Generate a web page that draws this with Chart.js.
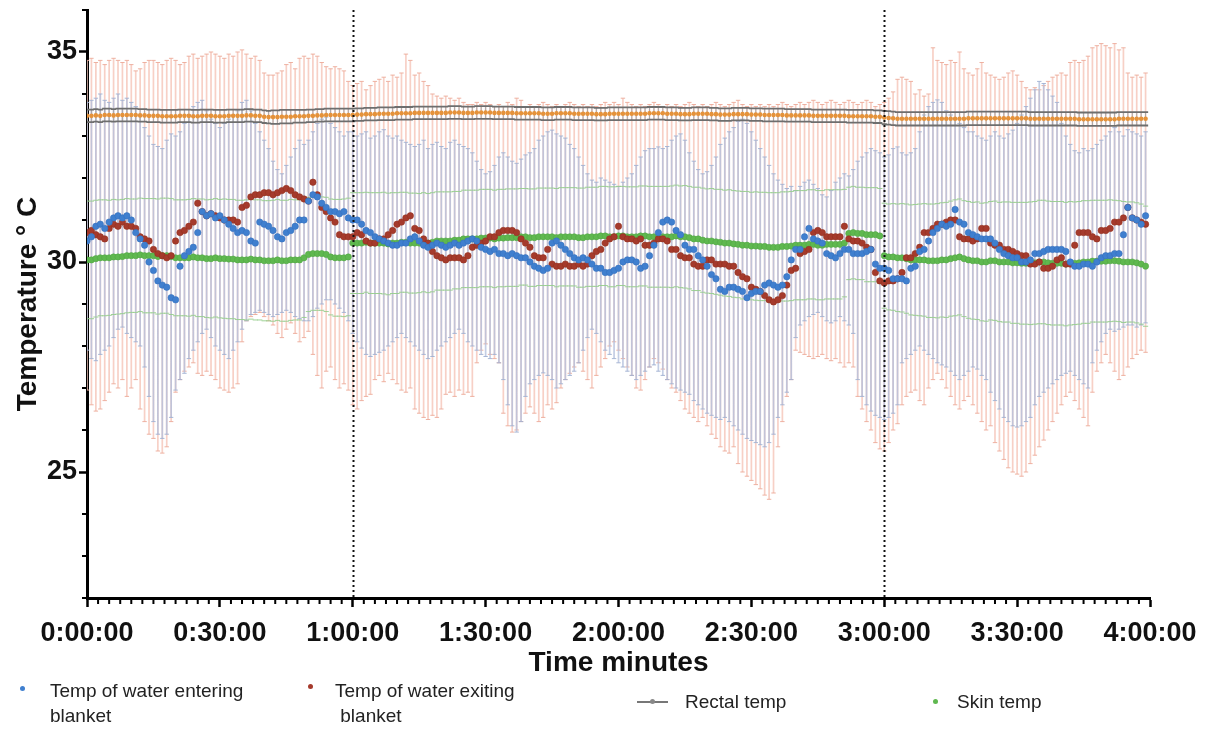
<!DOCTYPE html>
<html><head><meta charset="utf-8">
<script src="https://cdn.jsdelivr.net/npm/chart.js@4.4.0/dist/chart.umd.min.js"></script>
<style>
html,body{margin:0;padding:0;background:#fff;}
#wrap{position:relative;width:1205px;height:731px;overflow:hidden;}
canvas{position:absolute;left:0;top:0;}
.lg{position:absolute;font-family:"Liberation Sans",Arial,sans-serif;font-size:19px;color:#222;line-height:25px;white-space:nowrap;}
.dot{position:absolute;border-radius:50%;width:5px;height:5px;}
</style></head>
<body><div id="wrap"><canvas id="c" width="1205" height="731"></canvas>
<div class="dot" style="left:20px;top:686px;background:#3f7fcf"></div>
<div class="lg" style="left:50px;top:678px">Temp of water entering<br>blanket</div>
<div class="dot" style="left:308px;top:684px;background:#a53a2c"></div>
<div class="lg" style="left:335px;top:678px">Temp of water exiting<br>&nbsp;blanket</div>
<div style="position:absolute;left:637px;top:701px;width:31px;height:2px;background:#777"></div>
<div style="position:absolute;left:650px;top:699px;width:5px;height:5px;border-radius:50%;background:#888"></div>
<div class="lg" style="left:685px;top:689px">Rectal temp</div>
<div class="dot" style="left:933px;top:699px;background:#5fb84f"></div>
<div class="lg" style="left:957px;top:689px">Skin temp</div>
</div>
<script>
// ---- data (one sample per minute, t = 0..239 min) ----
const timeMinutes = Array.from({length:240},(_,i)=>i);
const xTickLabels = ['0:00:00','0:30:00','1:00:00','1:30:00','2:00:00','2:30:00','3:00:00','3:30:00','4:00:00'];
const yTickValues = [25,30,35];
const markerTimes = [60,180];

const waterIn = [
30.5,30.6,30.85,30.9,30.8,30.95,31.05,31.1,31.05,31.1,
31.0,30.7,30.55,30.4,30.0,29.8,29.55,29.45,29.4,29.15,
29.1,29.9,30.15,30.25,30.35,30.7,31.2,31.1,31.15,31.05,
31.1,31.0,30.9,30.8,30.7,30.75,30.7,30.5,30.45,30.95,
30.9,30.85,30.75,30.6,30.55,30.7,30.75,30.85,31.0,31.0,
31.45,31.6,31.55,31.4,31.3,31.2,31.2,31.15,31.2,31.05,
31.0,31.0,30.9,30.75,30.7,30.6,30.55,30.5,30.45,30.4,
30.4,30.45,30.45,30.55,30.6,30.5,30.4,30.35,30.4,30.45,
30.4,30.35,30.4,30.45,30.4,30.45,30.5,30.55,30.5,30.35,
30.3,30.25,30.3,30.2,30.2,30.15,30.2,30.15,30.1,30.1,
30.0,29.9,29.85,29.8,29.85,30.45,30.5,30.4,30.3,30.2,
30.1,30.05,30.1,30.05,29.95,29.85,29.85,29.75,29.75,29.8,
29.85,30.0,30.05,30.05,30.0,29.85,29.9,30.15,30.4,30.7,
30.95,31.0,30.95,30.75,30.65,30.4,30.3,30.3,30.15,30.05,
29.9,29.7,29.6,29.35,29.3,29.4,29.4,29.35,29.3,29.15,
29.25,29.3,29.3,29.45,29.5,29.45,29.4,29.45,29.65,30.05,
30.3,30.3,30.6,30.8,30.55,30.5,30.45,30.2,30.15,30.1,
30.2,30.3,30.3,30.2,30.2,30.2,30.25,30.3,29.95,29.85,
29.85,29.8,29.6,29.6,29.6,29.55,29.85,29.9,30.25,30.3,
30.5,30.7,30.8,30.9,30.85,30.9,31.25,30.95,30.9,30.7,
30.65,30.6,30.55,30.55,30.55,30.45,30.3,30.2,30.15,30.1,
30.1,30.0,30.0,30.05,30.2,30.2,30.25,30.3,30.3,30.3,
30.3,30.25,30.0,29.9,29.9,29.95,29.95,29.9,30.0,30.1,
30.15,30.15,30.2,30.2,30.65,31.3,31.05,31.0,30.9,31.1];
const waterInHi = [
33.8,33.85,33.9,34.0,33.85,33.8,33.9,34.0,33.85,33.9,
33.8,33.7,33.5,33.2,33.0,32.8,32.75,32.7,32.9,33.05,
33.0,33.1,33.3,33.5,33.7,33.8,33.85,33.6,33.4,33.3,
33.2,33.3,33.4,33.5,33.6,33.8,33.85,33.6,33.3,33.1,
32.9,32.7,32.4,32.2,32.1,32.3,32.5,32.7,32.9,32.8,
32.9,33.1,33.3,33.4,33.45,33.3,33.2,33.1,33.0,33.1,
33.1,33.0,33.05,33.1,32.95,33.0,33.1,33.15,33.0,32.95,
33.0,32.9,32.85,32.8,32.75,32.8,32.9,32.7,32.8,32.85,
32.75,32.7,32.85,32.9,32.8,32.75,32.7,32.6,32.4,32.2,
32.1,32.15,32.3,32.5,32.6,32.5,32.4,32.35,32.45,32.55,
32.6,32.7,32.9,33.0,33.1,33.14,33.05,33.0,32.95,32.8,
32.7,32.5,32.3,32.1,31.95,31.9,32.0,31.95,31.9,31.85,
31.8,31.9,32.0,32.1,32.3,32.5,32.65,32.7,32.7,32.74,
32.7,32.75,32.9,33.0,33.05,32.9,32.6,32.4,32.2,32.1,
32.15,32.3,32.5,32.8,32.95,33.1,33.2,33.35,33.4,33.3,
33.1,32.9,32.7,32.5,32.3,32.1,31.95,31.85,31.75,31.8,
31.7,31.8,31.9,31.95,31.85,31.75,31.6,31.55,31.7,31.9,
32.0,32.1,32.05,32.2,32.4,32.5,32.6,32.7,32.65,32.6,
32.5,32.55,32.7,32.74,32.6,32.55,32.6,32.7,33.1,33.5,
33.7,33.8,33.86,33.8,33.6,33.5,33.4,33.3,33.2,33.1,
33.1,33.0,32.95,32.9,33.0,33.1,33.0,32.95,33.05,33.14,
33.3,33.5,33.7,33.9,34.1,34.3,34.25,34.1,33.95,33.8,
33.3,33.0,32.8,32.65,32.6,32.7,32.65,32.7,32.8,32.9,
33.0,33.1,33.2,33.1,33.0,33.15,33.1,33.05,33.0,33.1];
const waterInLo = [
27.9,27.7,27.65,27.8,27.9,28.0,28.2,28.4,28.45,28.3,
28.2,28.1,28.0,27.5,26.8,26.2,25.9,25.8,25.9,26.3,
26.95,27.2,27.35,27.7,27.9,28.1,28.3,28.4,28.2,28.0,
27.9,27.8,27.7,27.9,28.1,28.4,28.6,28.75,28.8,28.85,
28.8,28.75,28.7,28.75,28.8,28.85,28.8,28.7,28.65,28.6,
28.6,28.7,28.9,29.0,29.1,29.1,29.0,28.9,28.8,28.6,
28.3,28.1,27.95,27.8,27.75,27.8,27.85,27.9,28.0,28.1,
28.2,28.3,28.2,28.1,28.0,27.9,27.8,27.7,27.75,27.9,
28.0,28.1,28.2,28.3,28.4,28.3,28.1,28.0,27.9,27.8,
27.75,27.7,27.8,27.6,27.2,26.6,26.1,25.95,26.2,26.8,
27.1,27.2,27.3,27.36,27.3,27.2,27.0,27.1,27.2,27.3,
27.4,27.6,27.9,28.2,28.4,28.3,28.1,27.9,27.8,27.7,
27.6,27.5,27.4,27.3,27.2,27.3,27.4,27.5,27.55,27.4,
27.3,27.2,27.1,27.0,26.95,26.9,26.85,26.7,26.6,26.5,
26.4,26.35,26.3,26.25,26.3,26.2,26.1,26.0,25.9,25.8,
25.75,25.7,25.65,25.6,25.7,25.9,26.3,26.6,26.9,27.2,
28.2,28.5,28.6,28.7,28.75,28.8,28.7,28.6,28.55,28.6,
28.7,28.6,28.5,28.3,27.2,26.8,26.6,26.45,26.35,26.3,
26.25,26.3,26.4,26.6,27.6,27.7,27.8,27.9,28.0,27.9,
27.8,27.7,27.6,27.55,27.5,27.4,27.3,27.2,27.3,27.4,
27.5,27.45,27.3,27.2,26.9,26.7,26.5,26.3,26.2,26.1,
26.07,26.1,26.2,26.3,26.6,26.8,26.9,27.0,27.1,27.2,
27.3,27.35,27.4,27.3,27.2,27.1,27.0,27.6,27.9,28.1,
28.3,28.4,28.35,28.4,28.45,28.5,28.5,28.45,28.5,28.55];

const waterOut = [
30.7,30.75,30.65,30.6,30.55,30.8,30.9,30.85,30.95,30.85,
30.85,30.8,30.6,30.55,30.5,30.3,30.2,30.15,30.1,30.15,
30.5,30.7,30.75,30.85,30.95,31.4,31.2,31.1,31.15,31.1,
31.05,31.0,31.0,31.0,30.95,31.3,31.35,31.55,31.6,31.6,
31.65,31.65,31.6,31.65,31.7,31.75,31.7,31.6,31.55,31.5,
31.45,31.9,31.6,31.3,31.2,31.05,30.95,30.65,30.6,30.6,
30.6,30.7,30.65,30.5,30.45,30.45,30.55,30.55,30.65,30.75,
30.9,30.95,31.05,31.1,30.8,30.75,30.55,30.45,30.25,30.15,
30.1,30.05,30.1,30.1,30.1,30.05,30.15,30.35,30.4,30.45,
30.5,30.6,30.6,30.7,30.75,30.75,30.75,30.7,30.55,30.45,
30.35,30.15,30.1,30.1,30.3,29.95,29.9,29.9,29.95,29.9,
29.9,29.95,29.9,29.95,30.15,30.25,30.3,30.45,30.55,30.6,
30.85,30.6,30.55,30.55,30.5,30.55,30.4,30.4,30.45,30.55,
30.55,30.5,30.3,30.3,30.15,30.1,30.1,29.95,29.9,29.9,
30.05,30.05,29.95,29.95,29.95,29.9,29.9,29.75,29.65,29.6,
29.4,29.35,29.3,29.2,29.1,29.05,29.1,29.2,29.45,29.8,
29.85,30.2,30.25,30.3,30.7,30.75,30.7,30.6,30.6,30.6,
30.6,30.85,30.55,30.5,30.5,30.45,30.35,30.3,29.75,29.55,
29.5,29.55,29.55,29.6,29.75,30.1,30.1,30.2,30.35,30.7,
30.7,30.8,30.9,30.9,30.95,31.0,31.0,30.6,30.55,30.55,
30.5,30.55,30.8,30.8,30.45,30.4,30.4,30.3,30.3,30.25,
30.2,30.15,30.15,29.95,29.95,30.0,29.85,29.85,29.9,30.05,
30.1,29.95,29.95,30.4,30.7,30.7,30.7,30.6,30.55,30.75,
30.75,30.8,30.95,30.95,31.05,31.3,31.05,31.0,30.95,30.9];
const waterOutHi = [
34.8,34.85,34.75,34.8,34.7,34.8,34.85,34.8,34.75,34.8,
34.7,34.55,34.6,34.75,34.8,34.8,34.75,34.7,34.8,34.85,
34.8,34.7,34.75,34.9,34.95,34.85,34.9,34.95,35.0,34.95,
34.9,34.85,34.95,34.9,35.0,35.05,34.95,34.85,34.9,34.8,
34.5,34.45,34.45,34.5,34.55,34.7,34.75,34.6,34.85,34.9,
34.85,34.95,34.9,34.75,34.65,34.6,34.65,34.6,34.55,34.3,
34.2,34.25,34.3,34.1,34.2,34.3,34.35,34.4,34.3,34.45,
34.4,34.5,34.95,34.8,34.45,34.5,34.3,34.2,34.0,33.95,
33.9,33.95,33.9,33.85,33.9,33.8,33.75,33.75,33.8,33.75,
33.8,33.75,33.7,33.75,33.7,33.8,33.75,33.9,33.85,33.7,
33.75,33.7,33.75,33.8,33.75,33.7,33.75,33.7,33.75,33.8,
33.75,33.7,33.75,33.7,33.75,33.7,33.75,33.8,33.75,33.8,
33.75,33.9,33.8,33.75,33.7,33.75,33.7,33.75,33.8,33.75,
33.7,33.75,33.7,33.75,33.7,33.75,33.8,33.75,33.7,33.75,
33.7,33.75,33.8,33.75,33.7,33.75,33.8,33.85,33.75,33.7,
33.75,33.7,33.75,33.7,33.75,33.7,33.75,33.8,33.75,33.7,
33.75,33.8,33.75,33.8,33.85,33.8,33.75,33.8,33.85,33.8,
33.75,33.8,33.85,33.8,33.75,33.8,33.85,33.8,33.7,33.75,
33.8,33.9,34.05,34.35,34.4,34.35,34.3,34.0,34.1,33.95,
34.0,35.1,34.8,34.75,34.7,34.8,34.75,35.0,34.6,34.5,
34.45,34.6,34.75,34.5,34.45,34.4,34.35,34.4,34.5,34.55,
34.45,34.3,34.15,34.1,34.15,34.1,34.2,34.3,34.4,34.45,
34.5,34.45,34.75,34.8,34.75,34.8,34.9,35.1,35.15,35.2,
35.15,35.1,35.2,35.05,35.1,34.5,34.4,34.45,34.4,34.5];
const waterOutLo = [
26.95,26.6,26.45,26.5,26.7,26.9,27.1,27.0,27.2,26.8,
27.0,27.2,26.5,26.2,25.9,25.8,25.5,25.45,25.6,26.2,
26.9,27.2,27.4,27.5,27.6,27.35,27.3,27.4,27.3,27.2,
27.0,26.95,26.9,27.0,27.1,28.1,28.6,28.7,28.75,28.8,
28.7,28.6,28.5,28.3,28.2,28.4,28.55,28.3,28.1,28.2,
28.35,27.8,27.3,27.0,27.4,27.5,27.2,27.0,27.1,26.95,
26.6,26.5,26.7,26.8,26.85,27.2,27.3,27.15,27.35,27.2,
27.1,26.95,26.9,27.0,26.5,26.4,26.3,26.25,26.35,26.3,
26.5,26.85,26.9,26.8,26.95,26.85,26.9,26.8,27.6,27.9,
28.05,27.8,27.7,27.6,26.4,26.1,25.95,26.0,26.2,26.4,
26.55,26.4,26.2,26.3,26.6,26.5,26.65,27.0,27.2,27.35,
27.5,27.6,27.4,27.2,27.0,27.3,27.5,27.7,28.0,28.1,
27.9,27.7,27.5,27.3,27.0,26.95,27.2,27.5,27.7,27.6,
27.45,27.2,27.0,26.9,26.7,26.5,26.4,26.3,26.2,26.3,
26.1,25.9,25.8,25.6,25.5,25.45,25.6,25.2,25.0,24.9,
24.8,24.7,24.6,24.45,24.35,24.5,25.6,26.2,26.8,27.2,
27.9,27.85,27.8,27.75,27.7,27.75,27.8,27.7,27.65,27.7,
27.6,27.5,27.6,27.5,26.8,26.5,26.2,26.0,25.7,25.55,
25.5,25.7,26.0,26.15,26.6,26.8,26.9,26.95,26.7,26.6,
27.0,27.2,27.35,27.2,27.0,26.8,26.6,26.5,26.7,26.8,
26.6,26.4,26.2,26.0,26.1,25.7,25.5,25.3,25.1,25.0,
24.95,24.9,25.0,25.2,25.4,25.6,25.76,26.0,26.2,26.4,
26.6,26.8,26.9,26.7,26.5,26.3,26.1,26.9,27.4,27.6,
27.8,27.6,27.4,27.2,27.3,27.5,27.7,27.8,27.9,27.85];

const rectalTemp = [
33.48,33.48,33.49,33.48,33.5,33.5,33.49,33.5,33.5,33.5,
33.5,33.5,33.49,33.49,33.48,33.48,33.48,33.47,33.47,33.47,
33.47,33.48,33.48,33.48,33.47,33.47,33.48,33.48,33.48,33.47,
33.47,33.47,33.48,33.48,33.48,33.48,33.49,33.49,33.48,33.48,
33.46,33.45,33.45,33.45,33.46,33.46,33.46,33.47,33.47,33.47,
33.48,33.48,33.49,33.49,33.5,33.5,33.5,33.5,33.5,33.5,
33.5,33.51,33.51,33.52,33.52,33.52,33.53,33.53,33.53,33.53,
33.54,33.54,33.54,33.54,33.55,33.55,33.55,33.55,33.55,33.55,
33.55,33.55,33.56,33.56,33.56,33.55,33.55,33.55,33.56,33.56,
33.56,33.56,33.55,33.55,33.55,33.55,33.55,33.54,33.54,33.54,
33.54,33.54,33.54,33.53,33.53,33.53,33.54,33.54,33.54,33.54,
33.53,33.53,33.53,33.53,33.53,33.52,33.52,33.52,33.53,33.53,
33.53,33.53,33.53,33.53,33.53,33.53,33.53,33.54,33.54,33.54,
33.54,33.53,33.53,33.53,33.52,33.52,33.52,33.53,33.53,33.53,
33.53,33.52,33.52,33.51,33.51,33.51,33.52,33.52,33.52,33.52,
33.51,33.51,33.51,33.5,33.5,33.5,33.5,33.5,33.49,33.49,
33.49,33.49,33.49,33.49,33.48,33.48,33.48,33.48,33.48,33.48,
33.48,33.48,33.47,33.47,33.47,33.47,33.47,33.47,33.46,33.46,
33.44,33.43,33.42,33.41,33.41,33.41,33.41,33.41,33.41,33.41,
33.41,33.41,33.41,33.41,33.41,33.41,33.41,33.41,33.41,33.42,
33.42,33.42,33.42,33.42,33.42,33.42,33.42,33.42,33.42,33.42,
33.42,33.42,33.42,33.41,33.41,33.41,33.41,33.41,33.41,33.41,
33.41,33.41,33.41,33.41,33.4,33.4,33.4,33.4,33.4,33.4,
33.4,33.4,33.4,33.41,33.41,33.41,33.41,33.41,33.41,33.41];
const rectalSd = [
0.15,0.15,0.15,0.15,0.15,0.15,0.15,0.15,0.15,0.15,
0.15,0.15,0.15,0.15,0.15,0.15,0.15,0.15,0.15,0.15,
0.15,0.15,0.15,0.15,0.15,0.15,0.15,0.15,0.15,0.15,
0.15,0.15,0.15,0.15,0.15,0.15,0.15,0.15,0.15,0.15,
0.15,0.15,0.16,0.16,0.16,0.16,0.16,0.15,0.15,0.15,
0.15,0.15,0.15,0.15,0.15,0.15,0.15,0.15,0.15,0.15,
0.15,0.15,0.15,0.15,0.15,0.15,0.15,0.15,0.15,0.15,
0.15,0.15,0.15,0.15,0.15,0.15,0.15,0.15,0.15,0.15,
0.15,0.15,0.15,0.15,0.15,0.15,0.15,0.15,0.15,0.15,
0.15,0.15,0.15,0.15,0.15,0.15,0.15,0.15,0.15,0.15,
0.15,0.15,0.15,0.15,0.15,0.15,0.15,0.15,0.15,0.15,
0.15,0.15,0.15,0.15,0.15,0.15,0.15,0.15,0.15,0.15,
0.15,0.15,0.15,0.15,0.15,0.15,0.15,0.15,0.15,0.15,
0.15,0.15,0.15,0.15,0.15,0.15,0.15,0.15,0.15,0.15,
0.15,0.15,0.15,0.15,0.15,0.15,0.15,0.15,0.15,0.15,
0.15,0.15,0.15,0.15,0.15,0.15,0.15,0.15,0.15,0.15,
0.15,0.15,0.15,0.15,0.15,0.15,0.15,0.15,0.15,0.15,
0.15,0.15,0.15,0.15,0.15,0.15,0.15,0.15,0.15,0.15,
0.16,0.16,0.16,0.16,0.16,0.16,0.16,0.16,0.16,0.16,
0.16,0.16,0.16,0.16,0.16,0.16,0.16,0.16,0.16,0.16,
0.16,0.16,0.16,0.16,0.16,0.16,0.16,0.16,0.16,0.16,
0.16,0.16,0.16,0.16,0.16,0.16,0.16,0.16,0.16,0.16,
0.16,0.16,0.16,0.16,0.16,0.16,0.16,0.16,0.16,0.16,
0.16,0.16,0.16,0.16,0.16,0.16,0.16,0.16,0.16,0.16];

const skinTemp = [
30.05,30.05,30.08,30.1,30.1,30.1,30.12,30.12,30.13,30.15,
30.15,30.15,30.17,30.15,30.15,30.15,30.13,30.15,30.15,30.13,
30.1,30.1,30.1,30.1,30.12,30.1,30.1,30.08,30.08,30.1,
30.08,30.08,30.07,30.07,30.05,30.05,30.05,30.07,30.05,30.05,
30.03,30.03,30.03,30.05,30.03,30.03,30.05,30.05,30.05,30.1,
30.18,30.2,30.2,30.2,30.18,30.12,30.1,30.1,30.1,30.12,
30.45,30.45,30.45,30.47,30.45,30.45,30.45,30.45,30.43,30.45,
30.45,30.47,30.47,30.45,30.45,30.45,30.47,30.45,30.47,30.5,
30.5,30.5,30.5,30.52,30.52,30.55,30.55,30.55,30.55,30.57,
30.57,30.57,30.55,30.57,30.57,30.58,30.58,30.58,30.6,30.6,
30.58,30.58,30.6,30.6,30.6,30.6,30.58,30.6,30.6,30.6,
30.6,30.58,30.58,30.6,30.6,30.6,30.62,30.62,30.6,30.6,
30.62,30.62,30.6,30.6,30.6,30.62,30.62,30.6,30.6,30.6,
30.6,30.6,30.6,30.62,30.6,30.6,30.58,30.55,30.55,30.52,
30.5,30.5,30.48,30.47,30.45,30.45,30.43,30.42,30.4,30.4,
30.38,30.38,30.37,30.37,30.35,30.35,30.35,30.37,30.37,30.38,
30.4,30.4,30.4,30.42,30.42,30.4,30.4,30.42,30.42,30.42,
30.42,30.45,30.68,30.7,30.68,30.68,30.65,30.65,30.65,30.62,
30.15,30.12,30.12,30.1,30.1,30.08,30.05,30.05,30.05,30.05,
30.03,30.03,30.03,30.05,30.05,30.08,30.1,30.12,30.08,30.05,
30.03,30.03,30.0,30.0,30.03,30.03,30.0,30.0,30.0,29.98,
29.98,29.97,29.97,29.97,29.98,30.0,30.0,29.98,29.97,29.97,
29.97,29.95,29.97,29.97,29.98,30.0,30.0,30.02,30.02,30.02,
30.02,30.03,30.03,30.02,30.0,30.0,30.0,29.98,29.95,29.9];
const skinSd = [
1.4,1.4,1.39,1.38,1.38,1.37,1.37,1.36,1.36,1.36,
1.35,1.35,1.35,1.36,1.36,1.36,1.37,1.37,1.37,1.38,
1.38,1.38,1.38,1.39,1.39,1.4,1.4,1.4,1.41,1.41,
1.41,1.42,1.42,1.42,1.42,1.42,1.43,1.43,1.43,1.43,
1.43,1.43,1.44,1.44,1.44,1.44,1.44,1.43,1.43,1.42,
1.36,1.35,1.35,1.35,1.36,1.38,1.39,1.39,1.4,1.4,
1.2,1.2,1.2,1.19,1.2,1.2,1.2,1.21,1.21,1.2,
1.2,1.19,1.19,1.19,1.19,1.18,1.18,1.18,1.18,1.17,
1.17,1.17,1.17,1.16,1.16,1.16,1.16,1.16,1.16,1.16,
1.16,1.16,1.16,1.16,1.16,1.16,1.16,1.16,1.15,1.15,
1.16,1.16,1.16,1.16,1.16,1.16,1.17,1.17,1.17,1.17,
1.17,1.18,1.18,1.18,1.18,1.18,1.18,1.18,1.19,1.19,
1.18,1.18,1.19,1.19,1.19,1.19,1.19,1.2,1.2,1.2,
1.2,1.2,1.21,1.21,1.21,1.22,1.22,1.23,1.23,1.24,
1.24,1.25,1.25,1.26,1.26,1.27,1.27,1.27,1.28,1.28,
1.28,1.29,1.29,1.29,1.3,1.3,1.3,1.3,1.3,1.3,
1.3,1.3,1.3,1.3,1.3,1.3,1.3,1.3,1.3,1.3,
1.3,1.28,1.1,1.1,1.1,1.1,1.12,1.12,1.12,1.13,
1.25,1.26,1.27,1.28,1.29,1.3,1.31,1.32,1.33,1.34,
1.35,1.35,1.36,1.36,1.37,1.37,1.38,1.38,1.38,1.39,
1.39,1.4,1.4,1.41,1.41,1.42,1.42,1.43,1.43,1.44,
1.44,1.45,1.45,1.46,1.46,1.47,1.47,1.47,1.47,1.47,
1.47,1.47,1.47,1.46,1.46,1.46,1.46,1.45,1.45,1.45,
1.45,1.45,1.44,1.44,1.44,1.43,1.43,1.43,1.43,1.43];

// ---- colours / styles ----
const C = {
  blue:'#3f7fcf', red:'#a53a2c', green:'#5fb84f', rect:'#e5923a',
  blueBar:'rgba(180,192,221,0.8)', redBar:'rgba(246,200,188,0.85)', greenBar:'rgba(150,205,140,0.9)', rectBar:'#6e6e6e'
};
const FONT = '"Liberation Sans", Arial, Helvetica, sans-serif';

const pts = arr => timeMinutes.map((t,i)=>({x:t,y:arr[i]}));

const errPlugin = {
  id:'errbars',
  beforeDatasetsDraw(chart){
    const {ctx, chartArea:a, scales:{x,y}} = chart;
    ctx.save();
    ctx.beginPath(); ctx.rect(a.left,a.top,a.width,a.height); ctx.clip();
    const bars = (lo,hi,col,capCol,capHalf,lw,capLw)=>{
      ctx.strokeStyle=col; ctx.lineWidth=lw; ctx.beginPath();
      timeMinutes.forEach((t,i)=>{
        const px=x.getPixelForValue(t);
        ctx.moveTo(px,y.getPixelForValue(lo[i])); ctx.lineTo(px,y.getPixelForValue(hi[i]));
      });
      ctx.stroke();
      ctx.strokeStyle=capCol; ctx.lineWidth=capLw; ctx.beginPath();
      timeMinutes.forEach((t,i)=>{
        const px=x.getPixelForValue(t);
        [lo[i],hi[i]].forEach(v=>{const py=y.getPixelForValue(v);ctx.moveTo(px-capHalf,py);ctx.lineTo(px+capHalf,py);});
      });
      ctx.stroke();
    };
    const gLo=skinTemp.map((v,i)=>v-skinSd[i]), gHi=skinTemp.map((v,i)=>v+skinSd[i]);
    const rLo=rectalTemp.map((v,i)=>v-rectalSd[i]), rHi=rectalTemp.map((v,i)=>v+rectalSd[i]);
    bars(waterOutLo,waterOutHi,C.redBar,'rgba(236,170,152,0.9)',2.2,1.7,1);
    bars(waterInLo,waterInHi,C.blueBar,'rgba(160,176,210,0.9)',2.2,1.7,1);
    bars(gLo,gHi,'rgba(0,0,0,0)',C.greenBar,2.6,1,1);
    bars(rLo,rHi,'#a8a8a8',C.rectBar,2.6,1,1.8);
    ctx.restore();
  },
  afterDatasetsDraw(chart){
    const {ctx, chartArea:a, scales:{x}} = chart;
    ctx.save();
    ctx.strokeStyle='#111'; ctx.lineWidth=2; ctx.setLineDash([2,3]);
    markerTimes.forEach(t=>{
      const px=Math.round(x.getPixelForValue(t))+0.5;
      ctx.beginPath(); ctx.moveTo(px,a.top); ctx.lineTo(px,a.bottom); ctx.stroke();
    });
    ctx.restore();
  },
  afterDraw(chart){
    const {ctx, chartArea:a, scales:{x,y}} = chart;
    ctx.save();
    ctx.strokeStyle='#000'; ctx.lineWidth=2;
    ctx.beginPath();
    for(let k=0;k<=96;k++){
      const t=k*2.5; if(t%30===0) continue;
      const px=x.getPixelForValue(t);
      ctx.moveTo(px,a.bottom); ctx.lineTo(px,a.bottom+6);
    }
    for(let v=22;v<=36;v++){
      if(yTickValues.includes(v)) continue;
      const py=y.getPixelForValue(v);
      ctx.moveTo(a.left,py); ctx.lineTo(a.left-5,py);
    }
    ctx.stroke();
    ctx.restore();
  }
};

new Chart(document.getElementById('c'),{
  type:'scatter',
  data:{datasets:[
    {label:'Rectal temp',data:pts(rectalTemp),backgroundColor:C.rect,borderColor:C.rect,pointRadius:2.3,borderWidth:0,order:0},
    {label:'Temp of water entering blanket',data:pts(waterIn),backgroundColor:C.blue,borderColor:'#3570bd',borderWidth:0.6,pointRadius:3.2,order:1},
    {label:'Temp of water exiting blanket',data:pts(waterOut),backgroundColor:C.red,borderColor:'#94301f',borderWidth:0.6,pointRadius:3.2,order:2},
    {label:'Skin temp',data:pts(skinTemp),backgroundColor:C.green,borderColor:'#53a845',borderWidth:0.6,pointRadius:3.1,order:3}
  ]},
  options:{
    responsive:false, animation:false, devicePixelRatio:1,
    layout:{padding:{top:10,right:55,left:0,bottom:731-598-85}},
    plugins:{legend:{display:false},tooltip:{enabled:false}},
    scales:{
      x:{type:'linear',position:'bottom',min:0,max:240,
        border:{color:'#000',width:3},
        grid:{drawOnChartArea:false,drawTicks:true,tickLength:9,tickWidth:2.5,tickColor:'#000'},
        ticks:{stepSize:30,autoSkip:false,maxRotation:0,padding:10,color:'#111',
          font:{family:FONT,size:27,weight:'bold'},
          callback:v=>xTickLabels[Math.round(v/30)]},
        title:{display:true,text:'Time minutes',color:'#111',font:{family:FONT,size:28,weight:'bold'},padding:{top:0,bottom:3}},
        afterFit:s=>{s.height=85;s.paddingLeft=0;s.paddingRight=0;}
      },
      y:{type:'linear',min:22,max:36,
        border:{color:'#000',width:3},
        grid:{drawOnChartArea:false,drawTicks:true,tickLength:8,tickWidth:2.5,tickColor:'#000'},
        afterBuildTicks:s=>{s.ticks=yTickValues.map(v=>({value:v}));},
        ticks:{padding:2,color:'#111',font:{family:FONT,size:27,weight:'bold'},callback:v=>String(v)},
        title:{display:true,text:'Temperature ° C',color:'#111',font:{family:FONT,size:28,weight:'bold'},padding:{top:11,bottom:0}},
        afterFit:s=>{s.width=87;s.paddingTop=0;s.paddingBottom=0;}
      }
    }
  },
  plugins:[errPlugin]
});
</script>
</body></html>
